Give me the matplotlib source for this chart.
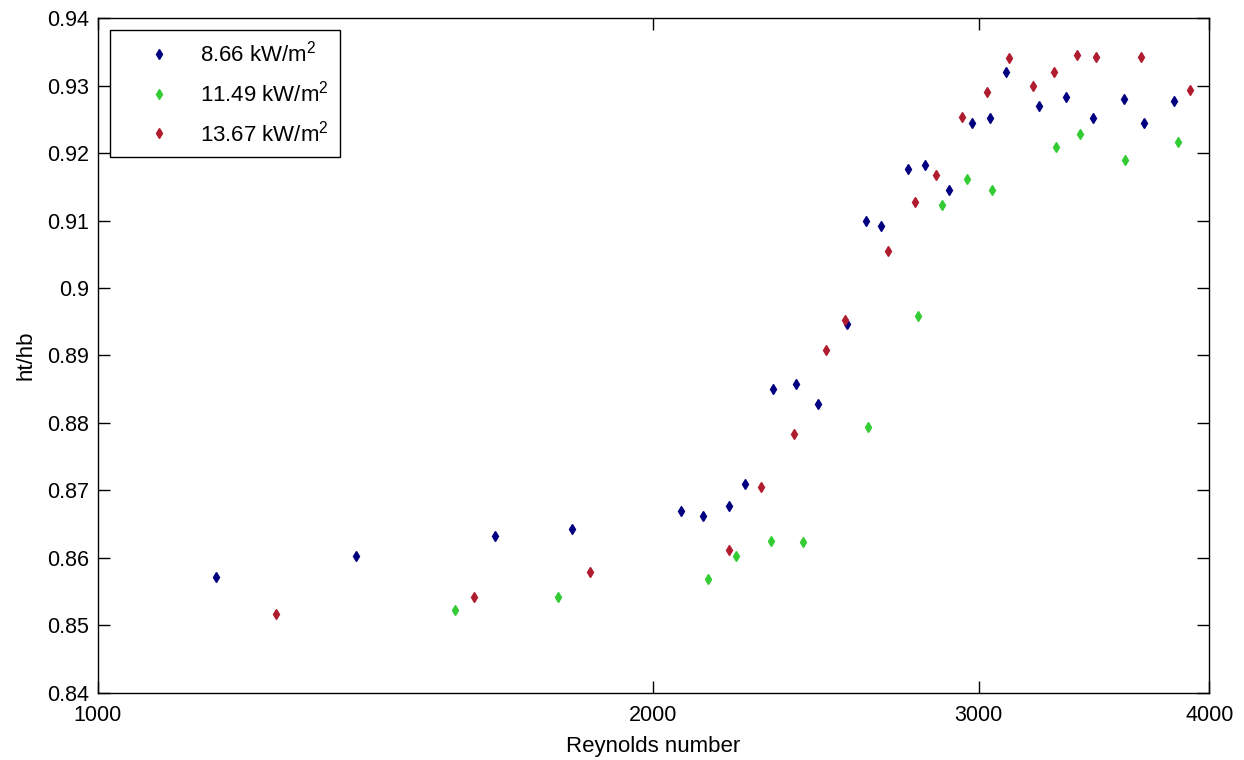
import matplotlib
matplotlib.use("Agg")
import matplotlib.pyplot as plt

# valeurs
re_866 = [1159, 1380, 1642, 1807, 2069, 2128, 2198, 2243, 2321, 2388, 2457, 2546, 2606,
          2657, 2747, 2806, 2892, 2977, 3042, 3106, 3234, 3347, 3459, 3597, 3689, 3830]
h_866 = [0.8571, 0.8602, 0.8633, 0.8643, 0.8669, 0.8662, 0.8677, 0.8710, 0.8851, 0.8858,
         0.8828, 0.8947, 0.9100, 0.9092, 0.9177, 0.9183, 0.9146, 0.9245, 0.9252, 0.9320,
         0.9270, 0.9284, 0.9252, 0.9281, 0.9245, 0.9278]

re_1149 = [1562, 1775, 2142, 2218, 2317, 2409, 2615, 2782, 2866, 2956, 3050, 3306, 3405,
           3603, 3846]
h_1149 = [0.8522, 0.8542, 0.8568, 0.8602, 0.8625, 0.8623, 0.8794, 0.8958, 0.9123, 0.9162,
          0.9146, 0.9209, 0.9229, 0.9190, 0.9216]

re_1367 = [1249, 1599, 1847, 2197, 2287, 2383, 2479, 2538, 2681, 2770, 2844, 2938, 3033,
           3115, 3210, 3296, 3391, 3474, 3675, 3905]
h_1367 = [0.8516, 0.8542, 0.8579, 0.8612, 0.8705, 0.8783, 0.8908, 0.8953, 0.9055, 0.9128,
          0.9167, 0.9253, 0.9291, 0.9341, 0.9299, 0.9320, 0.9346, 0.9343, 0.9343, 0.9294]

labels = ['8.66 kW/m$^2$', '11.49 kW/m$^2$', '13.67 kW/m$^2$']
x_ticks = [1000, 2000, 3000, 4000]
y_ticks = [0.84, 0.85, 0.86, 0.87, 0.88, 0.89, 0.90, 0.91, 0.92, 0.93, 0.94]
y_labels = ['0.84', '0.85', '0.86', '0.87', '0.88', '0.89', '0.9', '0.91', '0.92', '0.93', '0.94']

plt.rcParams['font.family'] = ['Liberation Sans', 'DejaVu Sans']
plt.rcParams['mathtext.default'] = 'regular'

fig = plt.figure(figsize=(12.44, 7.6), dpi=100)
ax = fig.add_axes([0.0785, 0.0886, 0.8936, 0.8873])

ax.plot(re_866, h_866, 'd', color='#000080', markersize=5, label=labels[0])
ax.plot(re_1149, h_1149, 'd', color='#33cc33', markersize=5, label=labels[1])
ax.plot(re_1367, h_1367, 'd', color='#b01c2e', markersize=5, label=labels[2])

ax.set_xscale('log')
ax.set_xlim(1000, 4000)
ax.set_ylim(0.84, 0.94)
ax.set_xticks(x_ticks)
ax.set_xticklabels([str(t) for t in x_ticks])
ax.minorticks_off()
ax.set_yticks(y_ticks)
ax.set_yticklabels(y_labels)

ax.tick_params(direction='in', length=8.4, width=1, top=True, right=True,
               labelsize=15.5, colors='black')
ax.tick_params(axis='x', pad=9)
ax.tick_params(axis='y', pad=6)
for s in ax.spines.values():
    s.set_linewidth(1)

ax.set_xlabel('Reynolds number', fontsize=16, labelpad=7)
ax.set_ylabel('ht/hb', fontsize=16, labelpad=8)

leg = ax.legend(loc='upper left', bbox_to_anchor=(0.011, 0.983), borderaxespad=0,
                fontsize=16, fancybox=False, framealpha=1, edgecolor='black',
                handlelength=3.4, handletextpad=0.15, labelspacing=0.62,
                borderpad=0.5)
leg.get_frame().set_linewidth(1)

fig.savefig('out.png', dpi=100)
